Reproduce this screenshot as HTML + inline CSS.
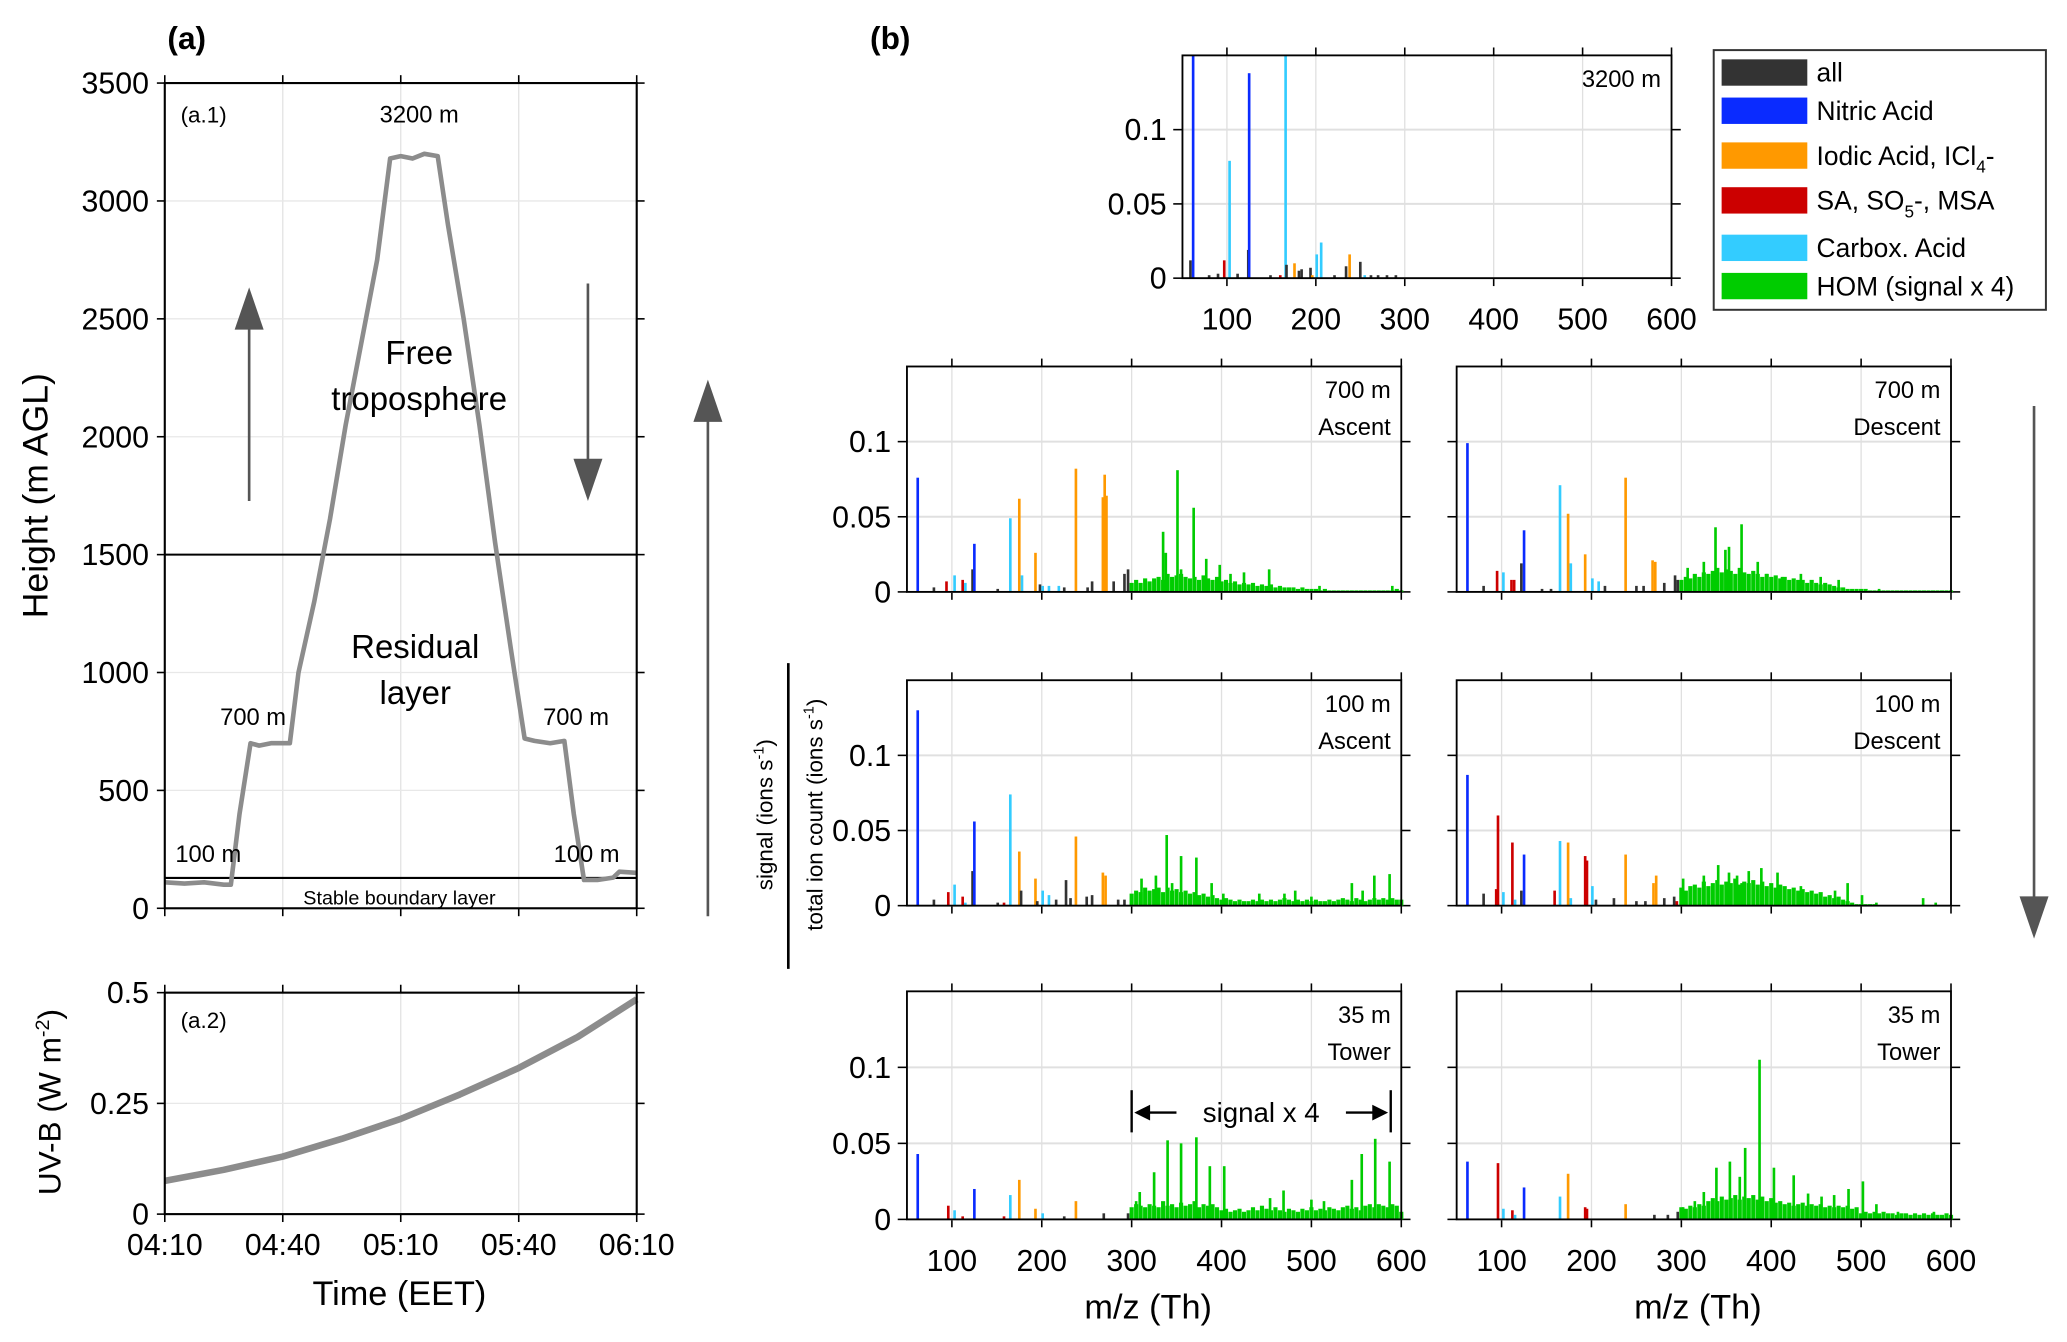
<!DOCTYPE html>
<html><head><meta charset="utf-8">
<style>
html,body{margin:0;padding:0;background:#fff;}
svg{display:block;font-family:"Liberation Sans","DejaVu Sans",sans-serif;}
</style></head>
<body>
<svg id="fig" xmlns="http://www.w3.org/2000/svg" width="2067" height="1342" viewBox="0 0 1568 1018">
<rect x="0" y="0" width="1568" height="1018" fill="#fff"/>
<text x="127" y="37" font-size="24" font-weight="bold">(a)</text>
<text x="660" y="37" font-size="24" font-weight="bold">(b)</text>
<g id="left"></g>
<g id="right"></g>
</svg>
<script>
// ---------- left panel data ----------
const timeTicks = ['04:10','04:40','05:10','05:40','06:10'];
const heightTicks = [0,500,1000,1500,2000,2500,3000,3500];
const flightT = [0,5,10,15,16.8,19,21.8,24,27,31.8,34,38,42,46,50,54,57.3,60,63,66,69.4,72,76,80,84,88,91.5,94,98,101.6,104,106.6,110,114,115.6,120];
const flightH = [110,105,110,100,100,400,700,690,700,700,1000,1300,1650,2050,2400,2750,3180,3190,3180,3200,3190,2900,2500,2050,1550,1100,720,710,700,710,400,120,120,130,155,150];
const uvTicks = [0,0.25,0.5];
const uvT = [0,15,30,45,60,75,90,105,120];
const uvV = [0.075,0.1,0.13,0.17,0.215,0.27,0.33,0.40,0.485];

// ---------- right panel data ----------
const mzTicks = [100,200,300,400,500,600];
const sigTicks = [0,0.05,0.1];
const p3200Mz  = [59,62,80,90,97,103,112,124,125,149,160,166,167,176,181,184,194,196,201,206,221,234,238,250,255,262,270,280,290];
const p3200Val = [0.012,0.15,0.002,0.003,0.012,0.079,0.003,0.019,0.138,0.002,0.002,0.15,0.009,0.01,0.005,0.006,0.007,0.002,0.016,0.024,0.002,0.008,0.016,0.011,0.002,0.002,0.002,0.002,0.002];
const p3200Cls = ['k','b','k','k','r','c','k','k','b','k','r','c','k','o','k','k','k','o','c','c','k','k','o','k','c','k','k','k','k'];
const p3200Floor = [];

const p700aMz  = [62,80,94,103,112,115,123,125,151,165,175,178,193,198,201,208,219,225,238,251,256,268,270,272,280,292,296,335,338,351,355,369,383,398,410,425,453,509,590];
const p700aVal = [0.076,0.003,0.007,0.011,0.008,0.006,0.015,0.032,0.002,0.049,0.062,0.011,0.026,0.005,0.004,0.004,0.004,0.003,0.082,0.003,0.007,0.063,0.078,0.064,0.007,0.012,0.015,0.04,0.026,0.081,0.015,0.056,0.022,0.018,0.012,0.013,0.015,0.004,0.004];
const p700aCls = ['b','k','r','c','r','c','k','b','k','c','o','c','o','k','c','c','c','k','o','k','k','o','o','o','k','k','k','g','g','g','g','g','g','g','g','g','g','g','g'];
const p700aFloor = [0.006,0.008,0.006,0.009,0.007,0.009,0.01,0.008,0.012,0.01,0.011,0.012,0.01,0.009,0.01,0.008,0.011,0.009,0.008,0.01,0.007,0.008,0.006,0.007,0.005,0.006,0.005,0.006,0.004,0.005,0.004,0.005,0.003,0.004,0.003,0.003,0.003,0.002,0.003,0.002,0.002,0.002,0.001,0.002,0.001,0.001,0.001,0.001,0.001,0.001,0.001,0.001,0.001,0.001,0.001,0.001,0.001,0.001,0.001,0.002,0.001];

const p700dMz  = [62,80,95,102,111,114,122,125,145,155,165,174,177,193,201,208,215,238,250,258,268,271,281,293,296,307,325,338,349,353,367,385,395,412,433,455,475,520];
const p700dVal = [0.099,0.004,0.014,0.013,0.008,0.008,0.019,0.041,0.002,0.002,0.071,0.052,0.019,0.025,0.009,0.007,0.004,0.076,0.004,0.004,0.021,0.02,0.006,0.011,0.008,0.016,0.02,0.043,0.028,0.03,0.045,0.02,0.012,0.01,0.012,0.01,0.008,0.002];
const p700dCls = ['b','k','r','c','r','r','k','b','k','k','c','o','c','o','c','c','k','o','k','k','o','o','k','k','k','g','g','g','g','g','g','g','g','g','g','g','g','g'];
const p700dFloor = [0.008,0.01,0.009,0.012,0.01,0.013,0.012,0.014,0.016,0.013,0.015,0.014,0.012,0.016,0.013,0.012,0.014,0.012,0.01,0.012,0.01,0.011,0.009,0.01,0.008,0.009,0.008,0.008,0.006,0.008,0.006,0.005,0.006,0.005,0.004,0.003,0.003,0.002,0.002,0.002,0.002,0.002,0.001,0.001,0.001,0.001,0.001,0.001,0.001,0.001,0.001,0.001,0.001,0.001,0.001,0.001,0.001,0.001,0.001,0.001,0.001];

const p100aMz  = [62,80,96,103,112,115,123,125,151,158,165,175,177,193,195,201,208,216,227,232,238,250,256,268,271,285,292,311,327,339,345,355,372,389,402,442,470,482,500,545,557,570,587];
const p100aVal = [0.13,0.004,0.009,0.014,0.006,0.002,0.023,0.056,0.002,0.002,0.074,0.036,0.01,0.018,0.003,0.01,0.007,0.004,0.017,0.005,0.046,0.006,0.007,0.022,0.02,0.004,0.004,0.018,0.02,0.047,0.015,0.033,0.032,0.015,0.008,0.008,0.008,0.01,0.006,0.015,0.01,0.02,0.021];
const p100aCls = ['b','k','r','c','r','c','k','b','k','r','c','o','k','o','k','c','c','k','k','k','o','k','k','o','o','k','k','g','g','g','g','g','g','g','g','g','g','g','g','g','g','g','g'];
const p100aFloor = [0.008,0.01,0.009,0.012,0.01,0.011,0.012,0.009,0.012,0.01,0.011,0.009,0.01,0.008,0.009,0.007,0.008,0.006,0.007,0.005,0.004,0.005,0.004,0.003,0.004,0.003,0.003,0.004,0.003,0.004,0.003,0.004,0.003,0.004,0.005,0.004,0.003,0.004,0.003,0.004,0.003,0.004,0.003,0.003,0.004,0.003,0.004,0.005,0.004,0.003,0.005,0.004,0.003,0.004,0.005,0.004,0.005,0.004,0.005,0.004,0.004];

const p100dMz  = [62,80,94,96,102,112,115,122,125,159,165,174,177,193,195,201,205,225,238,250,260,269,272,281,292,295,302,325,341,353,362,367,375,389,400,407,420,433,455,471,485,501,517,569,583];
const p100dVal = [0.087,0.008,0.011,0.06,0.009,0.042,0.004,0.01,0.034,0.01,0.043,0.042,0.005,0.033,0.03,0.013,0.004,0.005,0.034,0.003,0.003,0.015,0.02,0.005,0.006,0.003,0.018,0.02,0.027,0.022,0.02,0.015,0.023,0.025,0.012,0.022,0.01,0.013,0.008,0.01,0.015,0.007,0.002,0.005,0.002];
const p100dCls = ['b','k','r','r','c','r','c','k','b','r','c','o','c','r','r','c','k','k','o','k','k','o','o','k','k','r','g','g','g','g','g','g','g','g','g','g','g','g','g','g','g','g','g','g','g'];
const p100dFloor = [0.012,0.01,0.013,0.014,0.012,0.016,0.013,0.015,0.017,0.014,0.016,0.015,0.018,0.014,0.016,0.015,0.017,0.014,0.016,0.013,0.015,0.012,0.014,0.013,0.011,0.012,0.01,0.011,0.009,0.01,0.008,0.009,0.006,0.007,0.005,0.006,0.004,0.003,0.002,0.001,0.001,0.001,0.001,0.001,0,0,0,0,0,0,0,0,0,0,0,0,0,0,0,0,0];

const p35aMz  = [62,96,103,112,125,158,165,175,193,201,225,238,269,296,305,309,325,340,355,372,387,403,454,469,500,514,545,556,571,587];
const p35aVal = [0.043,0.009,0.006,0.002,0.02,0.002,0.016,0.026,0.007,0.004,0.002,0.012,0.004,0.004,0.012,0.018,0.031,0.052,0.05,0.054,0.035,0.035,0.014,0.019,0.013,0.012,0.026,0.043,0.053,0.038];
const p35aCls = ['b','r','c','r','b','r','c','o','o','c','k','o','k','k','g','g','g','g','g','g','g','g','g','g','g','g','g','g','g','g'];
const p35aFloor = [0.008,0.01,0.009,0.008,0.01,0.009,0.008,0.012,0.009,0.01,0.008,0.011,0.009,0.01,0.012,0.008,0.01,0.009,0.01,0.008,0.006,0.007,0.005,0.006,0.007,0.005,0.006,0.008,0.006,0.009,0.007,0.006,0.008,0.006,0.005,0.007,0.006,0.005,0.007,0.006,0.008,0.006,0.007,0.006,0.008,0.007,0.006,0.008,0.009,0.007,0.008,0.006,0.009,0.01,0.008,0.01,0.009,0.008,0.01,0.009,0.005];

const p35dMz  = [62,96,102,112,115,125,165,174,193,195,238,270,285,296,302,315,325,339,354,365,371,387,403,425,441,456,470,486,502,517,541,581];
const p35dVal = [0.038,0.037,0.007,0.006,0.003,0.021,0.015,0.03,0.008,0.007,0.01,0.003,0.003,0.005,0.008,0.012,0.018,0.034,0.038,0.028,0.047,0.105,0.034,0.029,0.017,0.015,0.016,0.02,0.025,0.01,0.005,0.005];
const p35dCls = ['b','r','c','r','c','b','c','o','r','r','o','k','k','k','g','g','g','g','g','g','g','g','g','g','g','g','g','g','g','g','g','g'];
const p35dFloor = [0.008,0.007,0.009,0.008,0.01,0.009,0.012,0.014,0.012,0.015,0.013,0.014,0.016,0.013,0.015,0.014,0.016,0.013,0.015,0.012,0.014,0.011,0.012,0.01,0.011,0.009,0.01,0.011,0.009,0.01,0.009,0.01,0.008,0.009,0.008,0.009,0.008,0.009,0.007,0.008,0.004,0.005,0.004,0.005,0.004,0.005,0.004,0.004,0.003,0.004,0.004,0.003,0.004,0.003,0.004,0.003,0.004,0.003,0.003,0.004,0.003];

const COLORS = {k:'#333333',b:'#0a2bff',o:'#ff9900',r:'#cc0000',c:'#33ccff',g:'#00cc00'};
const NS = 'http://www.w3.org/2000/svg';
function mk(tag, attrs, parent){
  const e = document.createElementNS(NS, tag);
  for (const k in attrs) e.setAttribute(k, attrs[k]);
  parent.appendChild(e);
  return e;
}
const L = document.getElementById('left');
const R = document.getElementById('right');

// ---------- left panel a.1 ----------
const ax = {x0:125, x1:483};
const tx = t => ax.x0 + (t/120)*(ax.x1-ax.x0);
const hy = h => 689 - h/3500*(689-63);
const uy = v => 921 - v/0.5*(921-753);

timeTicks.forEach((lab,i)=>{
  const x = tx(i*30);
  let g = mk('line',{x1:x,x2:x,y1:63,y2:689,stroke:'#e3e3e3','stroke-width':1},L);
  
  
  g = mk('line',{x1:x,x2:x,y1:753,y2:921,stroke:'#e3e3e3','stroke-width':1},L);
  
  
  [[63,-6],[689,6],[753,-6],[921,6]].forEach(([y,d])=>{
    const t = mk('line',{x1:x,x2:x,y1:y,y2:y+d,stroke:'#000','stroke-width':1.2},L);
    
    
  });
  const tl = mk('text',{x:x,y:952,'font-size':23,'text-anchor':'middle'},L);
  tl.textContent = lab;
  
  
});
heightTicks.forEach(h=>{
  const y = hy(h);
  const g = mk('line',{x1:ax.x0,x2:ax.x1,y1:y,y2:y,stroke:'#e8e8e8','stroke-width':1},L);
  
  
  [[ax.x0,-6],[ax.x1,6]].forEach(([x,d])=>{
    const t = mk('line',{x1:x,x2:x+d,y1:y,y2:y,stroke:'#000','stroke-width':1.2},L);
    
    
  });
  const tl = mk('text',{x:ax.x0-12,y:y+8,'font-size':23,'text-anchor':'end'},L);
  tl.textContent = h;
  
  
});
uvTicks.forEach(v=>{
  const y = uy(v);
  const g = mk('line',{x1:ax.x0,x2:ax.x1,y1:y,y2:y,stroke:'#e8e8e8','stroke-width':1},L);
  
  
  [[ax.x0,-6],[ax.x1,6]].forEach(([x,d])=>{
    const t = mk('line',{x1:x,x2:x+d,y1:y,y2:y,stroke:'#000','stroke-width':1.2},L);
    
    
  });
  const tl = mk('text',{x:ax.x0-12,y:y+8,'font-size':23,'text-anchor':'end'},L);
  tl.textContent = v;
  
  
});
let e;
e = mk('line',{x1:ax.x0,x2:ax.x1,y1:hy(1500),y2:hy(1500),stroke:'#000','stroke-width':1.6},L);


e = mk('line',{x1:ax.x0,x2:ax.x1,y1:666,y2:666,stroke:'#000','stroke-width':1.6},L);


e = mk('polyline',{points:flightT.map((t,i)=>tx(t)+','+hy(flightH[i])).join(' '),fill:'none',stroke:'#8c8c8c','stroke-width':3.5,'stroke-linejoin':'round'},L);


e = mk('polyline',{points:uvT.map((t,i)=>tx(t)+','+uy(uvV[i])).join(' '),fill:'none',stroke:'#8c8c8c','stroke-width':5,'stroke-linejoin':'round'},L);


e = mk('rect',{x:ax.x0,y:63,width:ax.x1-ax.x0,height:626,fill:'none',stroke:'#000','stroke-width':1.6},L);


e = mk('rect',{x:ax.x0,y:753,width:ax.x1-ax.x0,height:168,fill:'none',stroke:'#000','stroke-width':1.6},L);


const ltexts = [
 ['(a.1)',137,93,17,'start','a1-label'],['3200 m',318,93,18,'middle','label-3200m'],
 ['Free',318,276,25,'middle','free-troposphere-label'],['troposphere',318,311,25,'middle','free-troposphere-label'],
 ['Residual',315,499,25,'middle','residual-layer-label'],['layer',315,534,25,'middle','residual-layer-label'],
 ['700 m',192,550,18,'middle','label-700m-up'],['700 m',437,550,18,'middle','label-700m-down'],
 ['100 m',158,654,18,'middle','label-100m-up'],['100 m',445,654,18,'middle','label-100m-down'],
 ['Stable boundary layer',303,686,15,'middle','stable-boundary-layer-label'],
 ['(a.2)',137,780,17,'start','a2-label'],['Time (EET)',303,990,26,'middle','time-axis-title']
];
ltexts.forEach(([s,x,y,f,a,n])=>{
  const t = mk('text',{x:x,y:y,'font-size':f,'text-anchor':a},L);
  t.textContent = s;
  
  
});
e = mk('text',{x:0,y:0,'font-size':27,'text-anchor':'middle',transform:'translate(36,376) rotate(-90)'},L);
e.textContent = 'Height (m AGL)';


e = mk('text',{x:0,y:0,'font-size':24,'text-anchor':'middle',transform:'translate(46,836) rotate(-90)'},L);
e.innerHTML = 'UV-B (W m<tspan dy="-9" font-size="15">-2</tspan><tspan dy="9">)</tspan>';



function arrow(x,yFrom,yTo,w,name,parent){
  const dir = yTo<yFrom?-1:1;
  const g = mk('g',{},parent);
  
  
  mk('line',{x1:x,x2:x,y1:yFrom,y2:yTo-dir*28,stroke:'#555','stroke-width':2},g);
  mk('polygon',{points:`${x-w},${yTo-dir*32} ${x+w},${yTo-dir*32} ${x},${yTo}`,fill:'#555'},g);
}
arrow(189,380,218,11,'ascent-arrow',L);
arrow(446,215,380,11,'descent-arrow',L);
arrow(537,695,288,11,'ascent-arrow-big',L);
arrow(1543,308,712,11,'descent-arrow-big',L);

// ---------- right panels ----------
const panels = [
 {x0:897,x1:1268,yt:42,y0:211,mz:p3200Mz,val:p3200Val,cls:p3200Cls,floor:p3200Floor,lab:['3200 m'],ylab:true,xlab:true,name:'spectrum-3200m'},
 {x0:688,x1:1063,yt:278,y0:449,mz:p700aMz,val:p700aVal,cls:p700aCls,floor:p700aFloor,lab:['700 m','Ascent'],ylab:true,xlab:false,name:'spectrum-700m-ascent'},
 {x0:1105,x1:1480,yt:278,y0:449,mz:p700dMz,val:p700dVal,cls:p700dCls,floor:p700dFloor,lab:['700 m','Descent'],ylab:false,xlab:false,name:'spectrum-700m-descent'},
 {x0:688,x1:1063,yt:516,y0:687,mz:p100aMz,val:p100aVal,cls:p100aCls,floor:p100aFloor,lab:['100 m','Ascent'],ylab:true,xlab:false,name:'spectrum-100m-ascent'},
 {x0:1105,x1:1480,yt:516,y0:687,mz:p100dMz,val:p100dVal,cls:p100dCls,floor:p100dFloor,lab:['100 m','Descent'],ylab:false,xlab:false,name:'spectrum-100m-descent'},
 {x0:688,x1:1063,yt:752,y0:925,mz:p35aMz,val:p35aVal,cls:p35aCls,floor:p35aFloor,lab:['35 m','Tower'],ylab:true,xlab:true,name:'spectrum-35m-tower-a'},
 {x0:1105,x1:1480,yt:752,y0:925,mz:p35dMz,val:p35dVal,cls:p35dCls,floor:p35dFloor,lab:['35 m','Tower'],ylab:false,xlab:true,name:'spectrum-35m-tower-b'}
];
panels.forEach(p=>{
  const g = mk('g',{},R);
  
  
  const xs = m => p.x0 + (m-50)/550*(p.x1-p.x0);
  const ys = v => p.y0 - Math.min(v,0.15)/0.15*(p.y0-p.yt);
  mzTicks.forEach(m=>{
    const x = xs(m);
    const gl = mk('line',{x1:x,x2:x,y1:p.yt,y2:p.y0,stroke:'#e0e0e0','stroke-width':1},g);
    
    
    [[p.yt,-6],[p.y0,6]].forEach(([y,d])=>{
      const t = mk('line',{x1:x,x2:x,y1:y,y2:y+d,stroke:'#000','stroke-width':1.2},g);
      
      
    });
    if (p.xlab){
      const tl = mk('text',{x:x,y:p.y0+39,'font-size':23,'text-anchor':'middle'},g);
      tl.textContent = m;
      
      
    }
  });
  sigTicks.forEach(v=>{
    const y = ys(v);
    const gl = mk('line',{x1:p.x0,x2:p.x1,y1:y,y2:y,stroke:'#e0e0e0','stroke-width':1.5},g);
    
    
    [[p.x0,-7],[p.x1,7]].forEach(([x,d])=>{
      const t = mk('line',{x1:x,x2:x+d,y1:y,y2:y,stroke:'#000','stroke-width':1.2},g);
      
      
    });
    if (p.ylab){
      const tl = mk('text',{x:p.x0-12,y:y+8,'font-size':23,'text-anchor':'end'},g);
      tl.textContent = v;
      
      
    }
  });
  const bw = 4.6/550*(p.x1-p.x0);
  p.floor.forEach((v,i)=>{
    if (v<=0) return;
    const m = 300+5*i;
    const b = mk('rect',{x:xs(m)-bw/2,y:ys(v),width:bw,height:p.y0-ys(v),fill:COLORS.g},g);
    
    
  });
  p.mz.forEach((m,i)=>{
    const v = p.val[i];
    const b = mk('rect',{x:xs(m)-1,y:ys(v),width:2,height:p.y0-ys(v),fill:COLORS[p.cls[i]]},g);
    
    
  });
  const fr = mk('rect',{x:p.x0,y:p.yt,width:p.x1-p.x0,height:p.y0-p.yt,fill:'none',stroke:'#000','stroke-width':1.4},g);
  
  
  p.lab.forEach((s,i)=>{
    const t = mk('text',{x:p.x1-8,y:p.yt+24+i*28,'font-size':18,'text-anchor':'end'},g);
    t.textContent = s;
    
    
  });
});
[[871,'mz-axis-title-left'],[1288,'mz-axis-title-right']].forEach(([x,n])=>{
  const t = mk('text',{x:x,y:1000,'font-size':26,'text-anchor':'middle'},R);
  t.textContent = 'm/z (Th)';
  
  
});
e = mk('text',{x:0,y:0,'font-size':17,'text-anchor':'middle',transform:'translate(586,618) rotate(-90)'},R);
e.innerHTML = 'signal (ions s<tspan dy="-7" font-size="11">-1</tspan><tspan dy="7">)</tspan>';


e = mk('text',{x:0,y:0,'font-size':17,'text-anchor':'middle',transform:'translate(624,618) rotate(-90)'},R);
e.innerHTML = 'total ion count (ions s<tspan dy="-7" font-size="11">-1</tspan><tspan dy="7">)</tspan>';


e = mk('line',{x1:598,x2:598,y1:503,y2:735,stroke:'#000','stroke-width':2},R);


(function(){
  const g = mk('g',{},R);
  
  
  const xa = 688 + 250/550*375, xb = 1055;
  mk('line',{x1:xa,x2:xa,y1:827,y2:859,stroke:'#000','stroke-width':1.8},g);
  mk('line',{x1:xb,x2:xb,y1:827,y2:859,stroke:'#000','stroke-width':1.8},g);
  mk('line',{x1:xa+4,x2:xa+34,y1:844,y2:844,stroke:'#000','stroke-width':1.8},g);
  mk('polygon',{points:`${xa+2},844 ${xa+14},838 ${xa+14},850`,fill:'#000'},g);
  mk('line',{x1:xb-34,x2:xb-4,y1:844,y2:844,stroke:'#000','stroke-width':1.8},g);
  mk('polygon',{points:`${xb-2},844 ${xb-14},838 ${xb-14},850`,fill:'#000'},g);
  const t = mk('text',{x:(xa+xb)/2,y:851,'font-size':21,'text-anchor':'middle'},g);
  t.textContent = 'signal x 4';
})();
(function(){
  const g = mk('g',{},R);
  
  
  mk('rect',{x:1300,y:38,width:252,height:197,fill:'#fff',stroke:'#333','stroke-width':1.5},g);
  const ent = [['k','all',55],['b','Nitric Acid',84],['o','Iodic Acid, ICl<tspan dy="6" font-size="13">4</tspan><tspan dy="-6">-</tspan>',118],['r','SA, SO<tspan dy="6" font-size="13">5</tspan><tspan dy="-6">-, MSA</tspan>',152],['c','Carbox. Acid',188],['g','HOM (signal x 4)',217]];
  ent.forEach(([c,s,y])=>{
    const it = mk('g',{},g);
    
    
    mk('rect',{x:1306,y:y-10,width:65,height:20,fill:COLORS[c]},it);
    const t = mk('text',{x:1378,y:y+7,'font-size':20},it);
    t.innerHTML = s;
  });
})();
</script>
</body></html>
